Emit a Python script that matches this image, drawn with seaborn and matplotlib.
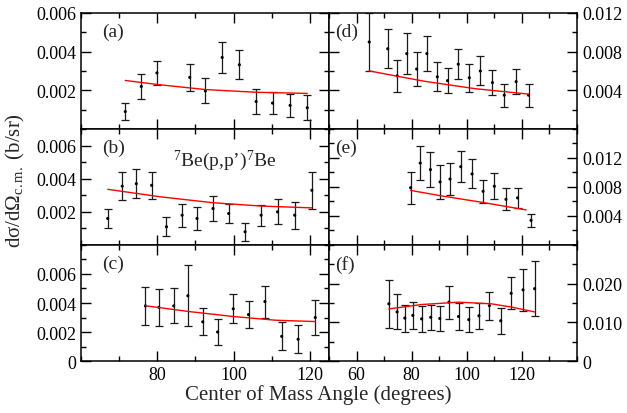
import matplotlib
matplotlib.use("Agg")
import matplotlib.pyplot as plt
import seaborn as sns
import pandas as pd
from matplotlib.ticker import FixedLocator, FixedFormatter, MultipleLocator

# ---------------- data ----------------
a_angle = [71.6, 75.8, 79.9, 88.5, 92.6, 97.0, 101.5, 105.9, 110.2, 114.8, 119.3]
a_val = [0.0009, 0.0022, 0.0029, 0.00267, 0.00197, 0.0037, 0.00332, 0.00142, 0.00134, 0.00122, 0.0011]
a_err = [0.00044, 0.00064, 0.00064, 0.00069, 0.00065, 0.00079, 0.00075, 0.00064, 0.00059, 0.00061, 0.00064]
a_fit_angle = [71.6, 80.1, 92.6, 105.9, 119.3]
a_fit_val = [0.00251, 0.0023, 0.00204, 0.0019, 0.00184]

b_angle = [67.0, 70.8, 74.5, 78.5, 82.4, 86.5, 90.4, 94.6, 98.7, 103.0, 107.2, 111.5, 116.0, 120.5]
b_val = [0.0016, 0.00355, 0.0037, 0.0036, 0.0011, 0.0018, 0.0016, 0.0022, 0.0019, 0.0008, 0.0018, 0.002, 0.0018, 0.0033]
b_err = [0.00055, 0.00083, 0.00086, 0.00083, 0.00056, 0.0007, 0.00068, 0.00073, 0.0006, 0.00053, 0.00063, 0.00075, 0.00081, 0.0011]
b_fit_angle = [67.0, 80.7, 94.6, 107.2, 120.5]
b_fit_val = [0.00336, 0.00291, 0.00255, 0.00235, 0.00224]

c_angle = [76.9, 80.4, 84.3, 88.0, 91.9, 95.8, 99.9, 103.9, 108.2, 112.6, 116.9, 121.4]
c_val = [0.0038, 0.0037, 0.0038, 0.0045, 0.0027, 0.002, 0.0036, 0.0032, 0.0041, 0.0017, 0.0015, 0.003]
c_err = [0.0013, 0.00128, 0.0012, 0.0021, 0.00093, 0.00088, 0.001, 0.00095, 0.0011, 0.00097, 0.00098, 0.00118]
c_fit_angle = [76.9, 88.0, 99.8, 111.1, 121.4]
c_fit_val = [0.00381, 0.00342, 0.00307, 0.00281, 0.00272]

d_angle = [64.6, 71.3, 74.7, 78.2, 81.8, 85.5, 89.3, 93.0, 96.9, 100.9, 104.9, 109.3, 113.6, 117.9, 122.4]
d_val = [0.009, 0.0083, 0.0055, 0.0078, 0.0062, 0.0078, 0.0054, 0.005, 0.0067, 0.0053, 0.006, 0.0048, 0.0035, 0.0049, 0.0035]
d_err = [0.003, 0.002, 0.00165, 0.0021, 0.0018, 0.00185, 0.0015, 0.0013, 0.00155, 0.00145, 0.0015, 0.0013, 0.0012, 0.0013, 0.0012]
d_fit_angle = [64.6, 74.9, 84.8, 103.0, 122.4]
d_fit_val = [0.00601, 0.00545, 0.00493, 0.00417, 0.00361]

e_angle = [79.6, 83.1, 86.8, 90.3, 93.9, 97.8, 101.9, 105.9, 110.0, 114.2, 118.4, 123.3]
e_val = [0.0079, 0.0113, 0.0104, 0.0087, 0.0091, 0.0108, 0.0098, 0.0074, 0.0081, 0.0063, 0.0065, 0.0034]
e_err = [0.0022, 0.0024, 0.0024, 0.0023, 0.0022, 0.0021, 0.002, 0.0016, 0.0018, 0.0015, 0.00137, 0.00094]
e_fit_angle = [79.6, 90.7, 105.3, 121.5]
e_fit_val = [0.00753, 0.00678, 0.0059, 0.00484]

f_angle = [71.7, 74.7, 77.5, 80.4, 83.6, 86.9, 90.2, 93.5, 97.0, 100.7, 104.4, 108.2, 112.3, 116.1, 120.4, 124.6]
f_val = [0.0148, 0.0127, 0.0111, 0.0118, 0.0109, 0.0113, 0.011, 0.0152, 0.0115, 0.0107, 0.0117, 0.0143, 0.0104, 0.0175, 0.0184, 0.0187]
f_err = [0.0062, 0.0045, 0.0035, 0.0034, 0.0034, 0.0033, 0.0033, 0.0043, 0.0034, 0.0032, 0.0034, 0.0036, 0.0033, 0.0041, 0.0054, 0.0071]
f_fit_angle = [71.7, 83.5, 97.0, 109.0, 116.4, 124.6]
f_fit_val = [0.01347, 0.0146, 0.01522, 0.01478, 0.01392, 0.01269]

panel_names = ["(a)", "(b)", "(c)", "(d)", "(e)", "(f)"]
left_xticks = [80, 100, 120]
right_xticks = [60, 80, 100, 120]
a_yticks = ["0.002", "0.004", "0.006"]
b_yticks = ["0.002", "0.004", "0.006"]
c_yticks = ["0", "0.002", "0.004", "0.006"]
d_yticks = ["0.004", "0.008", "0.012"]
e_yticks = ["0.004", "0.008", "0.012"]
f_yticks = ["0", "0.010", "0.020"]

reaction_label = "$^{7}$Be(p,p\u2019)$^{7}$Be"
x_label = "Center of Mass Angle (degrees)"
y_label = "d\u03c3/d\u03a9$_{\\mathrm{c.m.}}$ (b/sr)"

# ---------------- style ----------------
sns.set_style("ticks")
plt.rcParams["font.family"] = ["Liberation Serif", "DejaVu Serif"]
plt.rcParams["mathtext.fontset"] = "custom"
plt.rcParams["mathtext.rm"] = "Liberation Serif"
plt.rcParams["mathtext.it"] = "Liberation Serif:italic"

fig, axes = plt.subplots(3, 2, figsize=(6.27, 4.14), dpi=100)
fig.subplots_adjust(left=0.1292, right=0.9203, bottom=0.1256, top=0.9662,
                    wspace=0, hspace=0)

panels = [
    (axes[0, 0], a_angle, a_val, a_err, a_fit_angle, a_fit_val, a_yticks, 0.007 - 0.001, 0.001, "L"),
    (axes[1, 0], b_angle, b_val, b_err, b_fit_angle, b_fit_val, b_yticks, 0.007, 0.001, "L"),
    (axes[2, 0], c_angle, c_val, c_err, c_fit_angle, c_fit_val, c_yticks, 0.008, 0.001, "L"),
    (axes[0, 1], d_angle, d_val, d_err, d_fit_angle, d_fit_val, d_yticks, 0.012, 0.002, "R"),
    (axes[1, 1], e_angle, e_val, e_err, e_fit_angle, e_fit_val, e_yticks, 0.016, 0.002, "R"),
    (axes[2, 1], f_angle, f_val, f_err, f_fit_angle, f_fit_val, f_yticks, 0.030, 0.005, "R"),
]

for idx, (ax, ang, val, err, fa, fv, yt, ymax, yminor, side) in enumerate(panels):
    df = pd.DataFrame({"angle": ang, "val": val, "err": err})
    fit = pd.DataFrame({"angle": fa, "val": fv})
    ax.errorbar(df["angle"], df["val"], yerr=df["err"], fmt="none",
                ecolor="#1a1a1a", elinewidth=0.9, capsize=2.6, capthick=0.9, zorder=2)
    sns.scatterplot(data=df, x="angle", y="val", ax=ax, color="black", s=5,
                    edgecolor="none", zorder=3, legend=False)
    sns.lineplot(data=fit, x="angle", y="val", ax=ax, color="#ff0000", lw=1.0,
                 zorder=4, legend=False, sort=False)
    ax.set_xlabel("")
    ax.set_ylabel("")
    ax.set_ylim(0, ymax)
    ytick_vals = [float(t) for t in yt]
    ax.yaxis.set_major_locator(FixedLocator(ytick_vals))
    ax.yaxis.set_major_formatter(FixedFormatter(yt))
    ax.yaxis.set_minor_locator(MultipleLocator(yminor))
    if side == "L":
        ax.set_xlim(60, 125)
        ax.xaxis.set_major_locator(FixedLocator(left_xticks))
        ax.xaxis.set_major_formatter(FixedFormatter([str(t) for t in left_xticks]))
        ax.text(0.085, 0.84, panel_names[idx], transform=ax.transAxes,
                fontsize=14, va="center", ha="left")
    else:
        ax.set_xlim(50, 140)
        ax.xaxis.set_major_locator(FixedLocator(right_xticks))
        ax.xaxis.set_major_formatter(FixedFormatter([str(t) for t in right_xticks]))
        ax.text(0.023, 0.84, panel_names[idx], transform=ax.transAxes,
                fontsize=14, va="center", ha="left")
    ax.xaxis.set_minor_locator(MultipleLocator(10))
    ax.tick_params(which="both", direction="in", top=True, bottom=True,
                   left=True, right=True, width=1.0, labelsize=13, colors="black")
    ax.tick_params(which="major", length=7)
    ax.tick_params(which="minor", length=3.5)
    bottom_row = idx in (2, 5)
    ax.tick_params(labelbottom=bottom_row)
    if side == "R":
        ax.tick_params(labelleft=False, labelright=True)
    for sp in ax.spines.values():
        sp.set_linewidth(1.1)
        sp.set_color("black")

# adjust (a) top limit to 0.006
axes[0, 0].set_ylim(0, 0.006)

axes[1, 0].text(0.37, 0.73, reaction_label, transform=axes[1, 0].transAxes,
                fontsize=14, va="center", ha="left")

fig.text(0.508, 0.045, x_label, ha="center", va="center", fontsize=15)
fig.text(0.024, 0.565, y_label, ha="center", va="center", rotation=90, fontsize=15)

fig.savefig("out.png", dpi=100)
